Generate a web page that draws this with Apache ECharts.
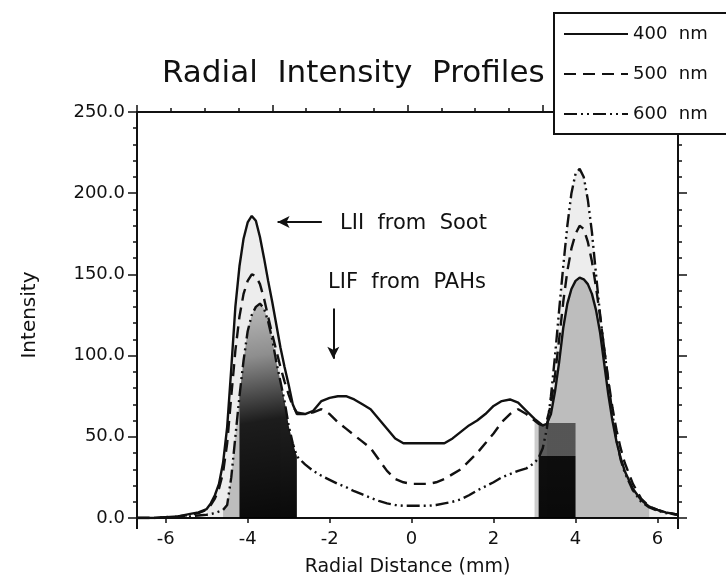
<!DOCTYPE html>
<html><head><meta charset="utf-8">
<script src="https://cdn.jsdelivr.net/npm/echarts@6/dist/echarts.min.js"></script>
<style>html,body{margin:0;padding:0;background:#fff}#c{width:726px;height:582px}</style>
</head><body><div id="c"></div>
<script>
// ---- data ----
const xs = [-6.7,-6.3,-6.0,-5.7,-5.4,-5.2,
  -5.0,-4.9,-4.8,-4.7,-4.6,-4.5,-4.4,-4.3,-4.2,-4.1,-4.0,-3.9,-3.8,-3.7,-3.6,-3.5,-3.4,-3.3,-3.2,-3.1,-3.0,-2.9,-2.8,
  -2.6,-2.4,-2.2,-2.0,-1.8,-1.6,-1.4,-1.2,-1.0,-0.8,-0.6,-0.4,-0.2,0.0,0.2,0.4,0.6,0.8,1.0,1.2,1.4,1.6,1.8,2.0,2.2,2.4,2.6,2.8,
  3.0,3.1,3.2,3.3,3.4,3.5,3.6,3.7,3.8,3.9,4.0,4.1,4.2,4.3,4.4,4.5,4.6,4.7,4.8,4.9,5.0,5.1,5.2,
  5.4,5.6,5.8,6.0,6.2,6.5];
const s400 = [0,0,0.5,1,2.5,3.5,
  5.5,9,14,21,34,56,92,130,155,172,182,186,183,173,160,146,133,119,105,93,82,70,64,
  64,66,72,74,75,75,73,70,67,61,55,49,46,46,46,46,46,46,49,53,57,60,64,69,72,73,71,66,
  61,59,57,58,64,78,96,117,132,141,146,148,147,144,138,128,114,95,76,60,47,37,29,
  18,11,7,5,3.5,2];
const s500 = [0,0,0.5,1,2,3,
  5,8,12,18,28,46,75,103,124,138,146,150,149,144,135,124,113,103,93,84,76,69,65,
  64,65,67,64,59,55,51,47,43,36,29,24,22,21,21,21,22,24,27,30,35,40,46,52,59,64,67,64,
  60,58,57,60,70,88,110,133,152,166,175,180,178,170,158,142,124,104,85,68,54,43,34,
  21,12,7,5,3.5,2];
const s600 = [0,0,0.3,0.5,1,1.5,
  2,2.5,3,4,5,8,25,50,75,97,115,125,130,132,129,121,110,96,84,72,57,46,38,
  33,29,26,23.5,21,19,16.5,14.5,12.5,10.5,9,8,7.5,7.5,7.5,7.5,8,9,10,11.5,14,17,19.5,22,25,27,29,30.5,
  34,37,43,55,75,100,128,155,180,200,212,215,210,196,176,150,125,104,84,64,48,36,28,
  17,10,6.5,4.5,3,2];
const seriesNames = ['400 nm','500 nm','600 nm'];
const xTickValues = [-6,-4,-2,0,2,4,6];
const yTickStep = 50;
const titleText = 'Radial  Intensity  Profiles';
const notes = ['LII  from  Soot','LIF  from  PAHs'];

// ---- chart ----
const FONT = 'DejaVu Sans';
const INK = '#111';
const pairs = s => xs.map((x,i)=>[x,s[i]]);
const sub = (s,a,b) => pairs(s).filter(p=>p[0]>=a-1e-9 && p[0]<=b+1e-9);
const G = echarts.graphic.LinearGradient;

const shades = [
  {data: sub(s400,-5.0,-3.2), color:'rgba(0,0,0,0.07)'},
  {data: sub(s600,-4.6,-2.8), color:'rgba(0,0,0,0.20)'},
  {data: sub(s600,-4.2,-2.8), color:new G(0,0,0.6,1,[
      {offset:0,color:'rgba(0,0,0,0.0)'},{offset:0.25,color:'rgba(0,0,0,0.25)'},
      {offset:0.55,color:'rgba(0,0,0,0.85)'},{offset:1,color:'rgba(0,0,0,0.95)'}])},
  {data: sub(s600,3.3,6.2), color:'rgba(0,0,0,0.07)'},
  {data: sub(s400,3.0,5.8), color:'rgba(0,0,0,0.20)'},
  {data: sub(s400,3.1,4.0), color:new G(0,0,0,1,[
      {offset:0,color:'rgba(0,0,0,0)'},{offset:0.6,color:'rgba(0,0,0,0)'},
      {offset:0.6,color:'rgba(0,0,0,0.55)'},{offset:0.74,color:'rgba(0,0,0,0.55)'},
      {offset:0.74,color:'rgba(0,0,0,0.93)'},{offset:1,color:'rgba(0,0,0,0.95)'}])}
];

const axisLine = {show:true, onZero:false, lineStyle:{color:INK, width:2}};
const tickLine = {color:INK, width:1.5};

const series = shades.map(sh => ({
  type:'line', data:sh.data, symbol:'none', silent:true, z:1,
  lineStyle:{width:0, opacity:0}, areaStyle:{color:sh.color, opacity:1}
}));
const dashes = ['solid',[12,7],[13,4,2,4,2,4]];
[s400,s500,s600].forEach((s,k)=>{
  series.push({
    name:seriesNames[k], type:'line', data:pairs(s), symbol:'none', z:5,
    itemStyle:{color:INK},
    lineStyle:{color:INK, width:2.4, type:dashes[k]},
    markLine: k===0 ? {
      silent:true, symbol:['none','arrow'], symbolSize:[9,12],
      lineStyle:{color:INK, width:2, type:'solid'}, label:{show:false},
      data:[
        [{coord:[-2.19,182.3]},{coord:[-3.27,182.3]}],
        [{coord:[-1.91,129]},{coord:[-1.91,98]}]
      ]
    } : undefined
  });
});

const chart = echarts.init(document.getElementById('c'));
chart.setOption({
  animation:false,
  backgroundColor:'#fff',
  title:{text:titleText, left:157, top:53, textStyle:{fontFamily:FONT, fontSize:31, fontWeight:'normal', color:INK}},
  grid:{left:137, right:48, top:112, bottom:60},
  legend:{
    data:seriesNames, orient:'vertical', left:554, top:13, selectedMode:false,
    backgroundColor:'#fff', borderColor:INK, borderWidth:2, borderRadius:0,
    padding:[11,40,10,9], itemWidth:64, itemHeight:14, itemGap:20, z:20,
    itemStyle:{opacity:0},
    formatter:n=>n.replace(' ','  '),
    textStyle:{fontFamily:FONT, fontSize:18, color:INK, lineHeight:20}
  },
  xAxis:[
    {type:'value', min:-6.7, max:6.5, position:'bottom',
     axisLine, axisTick:{show:true, customValues:xTickValues, length:5, lineStyle:tickLine},
     axisLabel:{customValues:xTickValues, fontFamily:FONT, fontSize:18, color:INK, margin:12},
     splitLine:{show:false},
     name:'Radial Distance (mm)', nameLocation:'middle', nameGap:40,
     nameTextStyle:{fontFamily:FONT, fontSize:19, color:INK}},
    {type:'value', min:0, max:4, interval:1, position:'top',
     axisLine, axisTick:{show:true, length:7, lineStyle:tickLine},
     minorTick:{show:true, splitNumber:4, length:4, lineStyle:tickLine},
     axisLabel:{show:false}, splitLine:{show:false}, minorSplitLine:{show:false}},
    {type:'value', min:-6.7, max:6.5, position:'bottom',
     axisLine:{show:false}, axisTick:{show:true, customValues:[-6.7,6.5], length:11, lineStyle:{color:INK,width:2}},
     axisLabel:{show:false}, splitLine:{show:false}}
  ],
  yAxis:[
    {type:'value', min:0, max:250, interval:yTickStep, position:'left',
     axisLine, axisTick:{show:true, length:9, lineStyle:tickLine},
     minorTick:{show:true, splitNumber:5, length:4, lineStyle:tickLine},
     axisLabel:{fontFamily:FONT, fontSize:18, color:INK, margin:12, formatter:v=>v.toFixed(1)},
     splitLine:{show:false}, minorSplitLine:{show:false},
     name:'Intensity', nameLocation:'middle', nameGap:97,
     nameTextStyle:{fontFamily:FONT, fontSize:20, color:INK}},
    {type:'value', min:0, max:250, interval:yTickStep, position:'right',
     axisLine, axisTick:{show:true, length:9, lineStyle:tickLine},
     minorTick:{show:true, splitNumber:5, length:4, lineStyle:tickLine},
     axisLabel:{show:false}, splitLine:{show:false}, minorSplitLine:{show:false}}
  ],
  graphic:[
    {type:'text', x:340, y:224, style:{text:notes[0], font:'21px "DejaVu Sans"', fill:INK, align:'left', verticalAlign:'middle'}},
    {type:'text', x:328, y:283, style:{text:notes[1], font:'21px "DejaVu Sans"', fill:INK, align:'left', verticalAlign:'middle'}}
  ],
  series
});
</script>
</body></html>
